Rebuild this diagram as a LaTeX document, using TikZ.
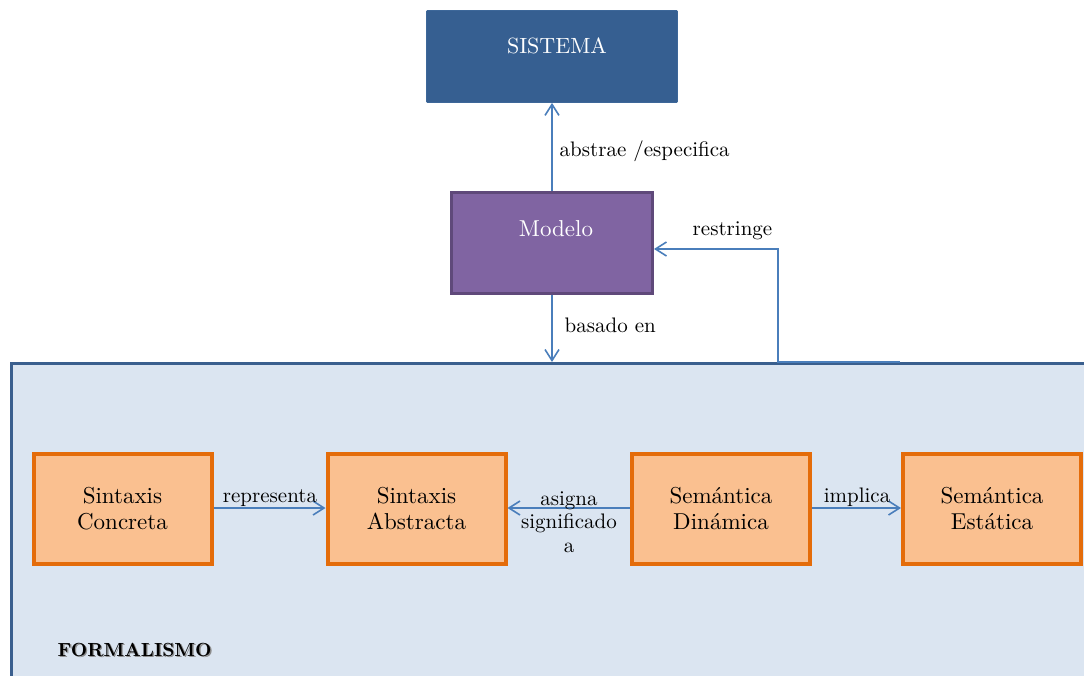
\documentclass[tikz,border=0pt]{standalone}
\usepackage{fontspec}
\setmainfont{lmroman10-regular.otf}[BoldFont=lmroman10-bold.otf]
\usetikzlibrary{arrows.meta}
\definecolor{sysblue}{HTML}{365F91}
\definecolor{sysline}{HTML}{3D6799}
\definecolor{modfill}{HTML}{8064A2}
\definecolor{modline}{HTML}{5F497A}
\definecolor{orfill}{HTML}{FAC090}
\definecolor{orline}{HTML}{E46C0A}
\definecolor{formfill}{HTML}{DBE5F1}
\definecolor{formline}{HTML}{3A5F8E}
\definecolor{connblue}{HTML}{4A7EBB}
\begin{document}
\begin{tikzpicture}[x=1pt,y=-1pt,
  boxfont/.style={font=\fontsize{23}{26.5}\selectfont},
  lblfont/.style={font=\fontsize{21}{23.4}\selectfont},
  sysbox/.style={draw=sysline, fill=sysblue, line width=0.8pt, rounded corners=1pt,
    minimum width=251pt, minimum height=92pt},
  modbox/.style={draw=modline, fill=modfill, line width=3pt,
    minimum width=201pt, minimum height=101pt},
  partbox/.style={draw=orline, fill=orfill, line width=4pt, minimum width=178pt,
    minimum height=110pt, align=center, boxfont, inner sep=0pt},
  formbox/.style={draw=formline, fill=formfill, line width=3pt,
    minimum width=1100pt, minimum height=400pt, anchor=north west},
  conn/.style={draw=connblue, line width=1.6pt,
    -{Straight Barb[length=11pt,width=14pt]}},
  lbl/.style={lblfont, text=black, inner sep=0.5pt},
  titlefont/.style={font=\fontsize{19}{21}\selectfont\bfseries, inner sep=0pt, anchor=west}
]
\path[use as bounding box] (0,0) rectangle (1084,675);
\clip (0,0) rectangle (1084,675);

% container of the formal parts
\node[formbox] (form) at (10,362) {};

% top boxes
\node[sysbox, label={[text=white, font=\fontsize{22}{26}\selectfont, xshift=5pt, yshift=10.5pt]center:SISTEMA}] (sys) at (552,56.5) {};
\node[modbox, label={[text=white, boxfont, xshift=4pt, yshift=14pt]center:Modelo}] (mod) at (552,243) {};

% the four parts of the formalism
\node[partbox] (sc) at (122.5,508.5) {Sintaxis\\Concreta};
\node[partbox] (sa) at (416.5,508.5) {Sintaxis\\Abstracta};
\node[partbox] (sd) at (721,508.5) {Semántica\\Dinámica};
\node[partbox] (se) at (992,508.5) {Semántica\\Estática};

% title with its drop shadow
\node[titlefont, text=black!45] (ftitleshadow) at (58.8,650.8) {FORMALISMO};
\node[titlefont, text=black] (ftitle) at (57.5,649.5) {FORMALISMO};

% connectors
\draw[conn] (mod.north) -- (sys.south);
\node[lbl, anchor=west] (labs) at (559,151) {abstrae /especifica};

\draw[conn] (mod.south) -- (mod.south |- form.north);
\node[lbl, anchor=west] (lbas) at (564,325) {basado en};

\coordinate (rs) at (900,362);
\coordinate (rb) at (778,249);
\draw[conn] (rs) -| (rb) -- (rb -| mod.east);
\node[lbl, anchor=west] (lres) at (692,231) {restringe};

\coordinate (ya) at (0,508);
\draw[conn] (sc.east |- ya) -- (sa.west |- ya);
\node[lbl, anchor=south] (lrep) at (270,507) {representa};

\draw[conn] (sd.west |- ya) -- (sa.east |- ya);
\node[lbl, align=center] (lasi) at (569,522) {asigna\\significado\\a};

\draw[conn] (sd.east |- ya) -- (se.west |- ya);
\node[lbl, anchor=south] (limp) at (857,507) {implica};
\end{tikzpicture}
\end{document}
